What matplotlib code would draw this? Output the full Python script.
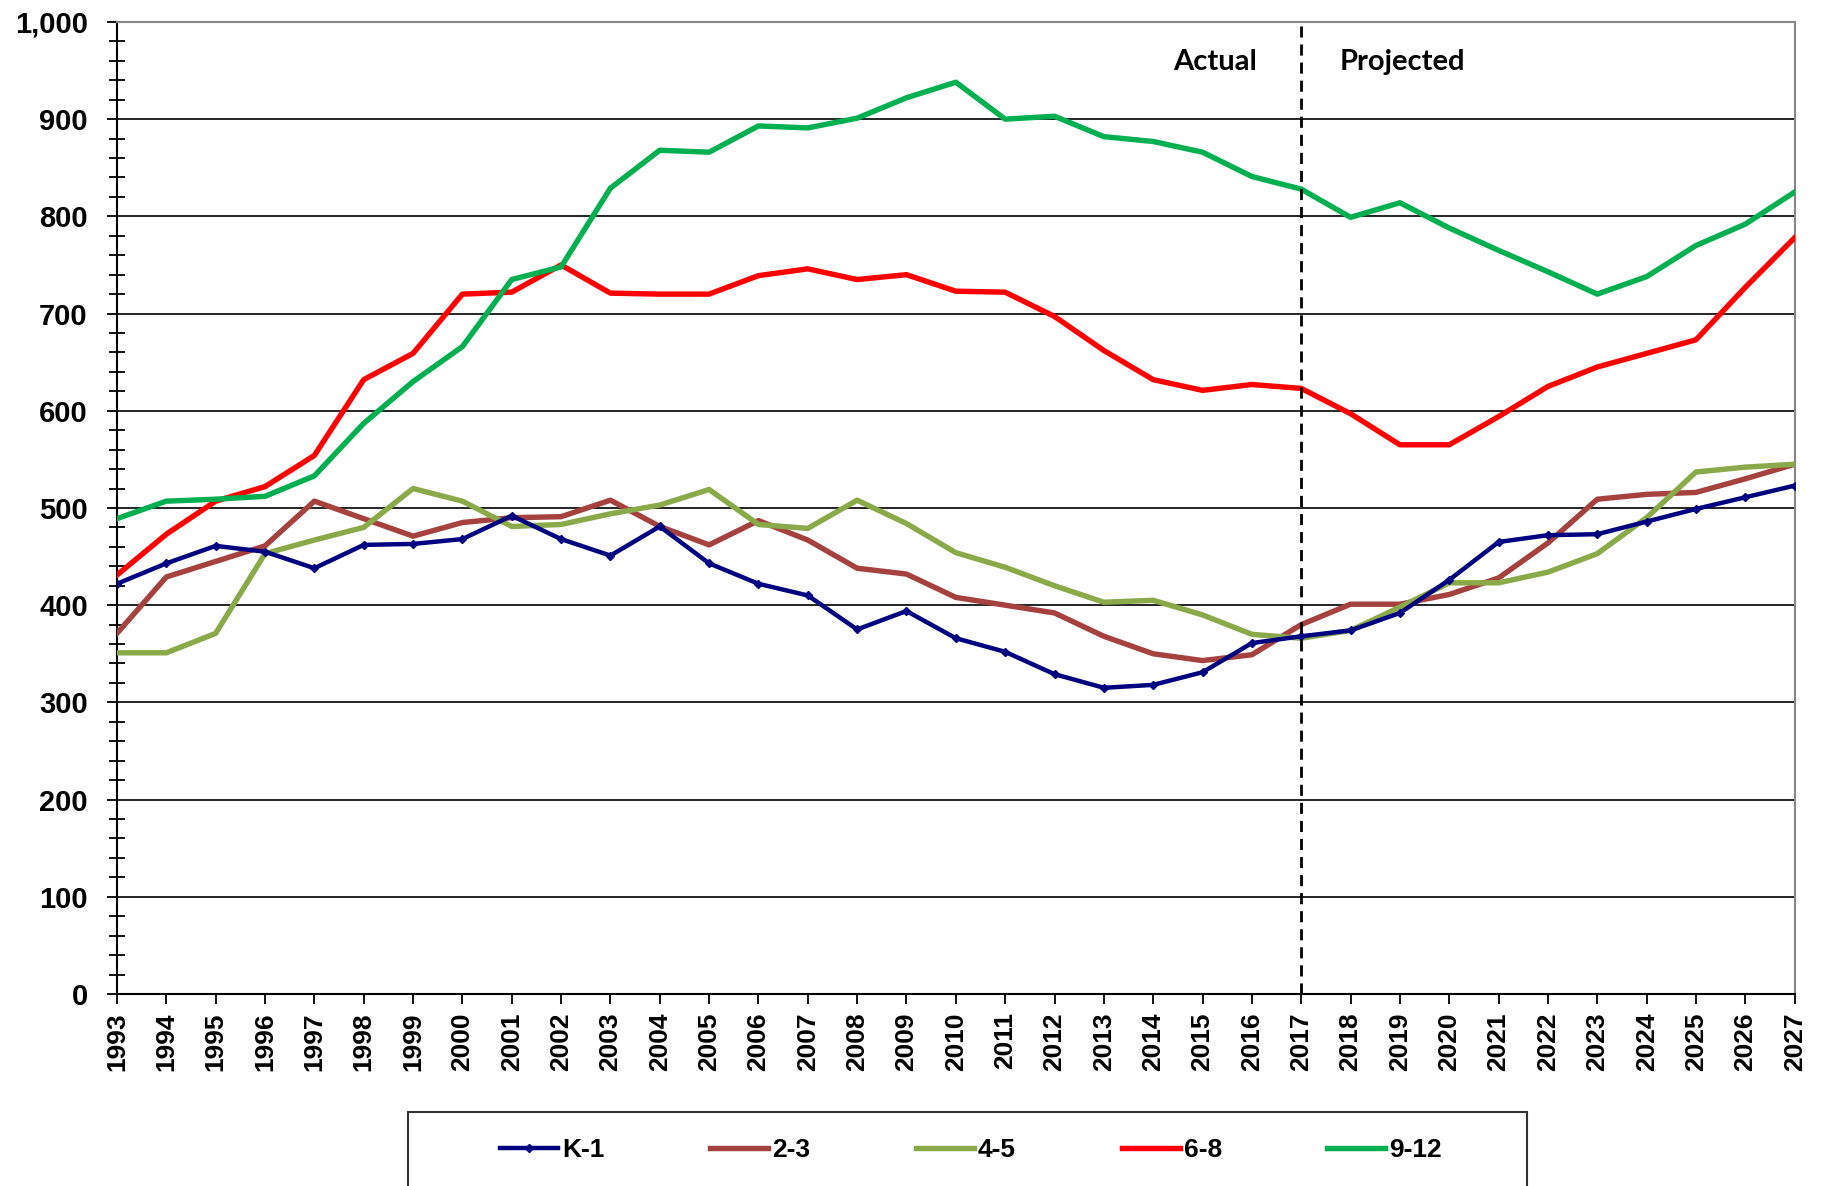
import matplotlib
matplotlib.use("Agg")
import matplotlib.pyplot as plt
from matplotlib.ticker import MultipleLocator, FuncFormatter
from matplotlib.patches import Rectangle

years = list(range(1993, 2028))

k1 = [422, 443, 461, 455, 438, 462, 463, 468, 492, 468, 451, 481,
      443, 422, 410, 375, 394, 366, 352, 329, 315, 318, 331, 361,
      368, 374, 392, 426, 465, 472, 473, 486, 499, 511, 523]
g2_3 = [371, 429, 445, 461, 507, 489, 471, 485, 490, 491, 508, 481,
        462, 487, 467, 438, 432, 408, 400, 392, 368, 350, 343, 349,
        380, 401, 401, 411, 428, 464, 509, 514, 516, 530, 545]
g4_5 = [351, 351, 371, 453, 467, 480, 520, 507, 481, 483, 494, 503,
        519, 483, 479, 508, 484, 454, 439, 420, 403, 405, 390, 370,
        366, 374, 398, 423, 423, 434, 453, 490, 537, 542, 545]
g6_8 = [431, 473, 507, 522, 554, 632, 659, 720, 722, 750, 721, 720,
        720, 739, 746, 735, 740, 723, 722, 697, 662, 632, 621, 627,
        623, 597, 565, 565, 594, 625, 645, 659, 673, 727, 778]
g9_12 = [489, 507, 509, 512, 533, 587, 630, 666, 735, 748, 829, 868,
         866, 893, 891, 901, 922, 938, 900, 903, 882, 877, 866, 841,
         828, 799, 814, 788, 765, 743, 720, 738, 770, 792, 825]

labels = ["K-1", "2-3", "4-5", "6-8", "9-12"]
colors = ["#000080", "#A5423F", "#8AAA4A", "#FF0000", "#00B050"]

fig = plt.figure(figsize=(18.22, 11.86), dpi=100)
ax = fig.add_axes([0.0642, 0.1619, 0.9208, 0.8196])

ax.plot(years, k1, color=colors[0], lw=3.2, marker="D", ms=4.5, label=labels[0], zorder=5)
ax.plot(years, g2_3, color=colors[1], lw=3.9, label=labels[1], zorder=4)
ax.plot(years, g4_5, color=colors[2], lw=3.9, label=labels[2], zorder=4)
ax.plot(years, g6_8, color=colors[3], lw=3.9, label=labels[3], zorder=4)
ax.plot(years, g9_12, color=colors[4], lw=3.9, label=labels[4], zorder=4)

ax.axvline(2017, color="black", lw=2, ls=(0, (4, 2.5)), zorder=6)

ax.set_xlim(1993, 2027)
ax.set_ylim(0, 1000)
ax.set_xticks(years)
ax.set_xticklabels([str(y) for y in years], rotation=90, fontsize=19,
                   fontweight="bold", family="Liberation Sans")
ax.yaxis.set_major_locator(MultipleLocator(100))
ax.yaxis.set_minor_locator(MultipleLocator(20))
ax.yaxis.set_major_formatter(FuncFormatter(lambda v, p: "{:,.0f}".format(v)))
for t in ax.get_yticklabels():
    t.set_fontsize(21)
    t.set_fontweight("bold")
    t.set_family("Liberation Sans")

ax.tick_params(axis="y", which="major", direction="out", length=7, width=1.3, pad=14)
ax.tick_params(axis="y", which="minor", direction="inout", length=12, width=1.3)
ax.tick_params(axis="x", which="major", direction="out", length=7, width=1.3, pad=6)

ax.grid(axis="y", which="major", color="black", lw=1.2)
ax.set_axisbelow(True)
for side in ["top", "right"]:
    ax.spines[side].set_color("#888888")
    ax.spines[side].set_linewidth(1.5)
for side in ["left", "bottom"]:
    ax.spines[side].set_color("black")
    ax.spines[side].set_linewidth(1.5)

ax.text(2016.1, 959, "Actual", ha="right", va="center", fontsize=21,
        fontweight="bold", family="Lato")
ax.text(2017.77, 959, "Projected", ha="left", va="center", fontsize=21,
        fontweight="bold", family="Lato")

# legend box runs off the bottom edge like the original
fig.patches.append(Rectangle((0.2239, -0.05), 0.614, 0.1124, transform=fig.transFigure,
                             fill=False, edgecolor="#333333", lw=1.5))
fig.legend(loc="center", bbox_to_anchor=(0.533, 0.0304), ncol=5, frameon=False,
           prop={"family": "Liberation Sans", "weight": "bold", "size": 19},
           handlelength=2.2, handletextpad=0.15, columnspacing=4.0)

fig.savefig("out.png", dpi=100)
